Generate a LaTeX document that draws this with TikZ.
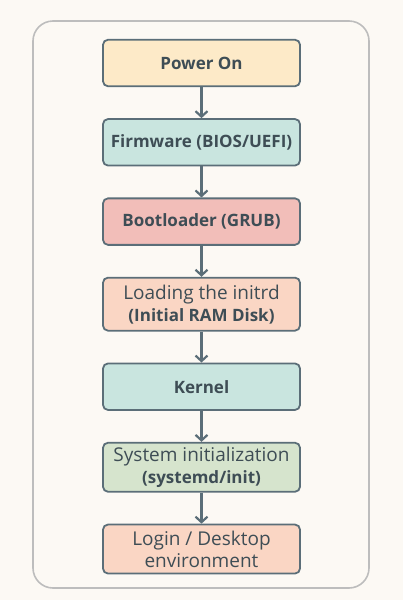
\documentclass[tikz,border=0pt]{standalone}
\usepackage{fontspec}
\setmainfont{Open Sans}
\usepackage{xcolor}
\usepackage{tikz}
\usetikzlibrary{arrows.meta,positioning}
\definecolor{bgcream}{HTML}{FCF9F4}
\definecolor{framegray}{HTML}{BDBDBD}
\definecolor{slateline}{HTML}{5B6E78}
\definecolor{slatetext}{HTML}{3E4D55}
\definecolor{fillyellow}{HTML}{FDEAC8}
\definecolor{fillteal}{HTML}{C9E5DF}
\definecolor{fillpink}{HTML}{F2BEB9}
\definecolor{fillpeach}{HTML}{FAD6C4}
\definecolor{fillgreen}{HTML}{D6E4CD}
\newcommand{\boldline}[1]{{\fontsize{17}{22}\selectfont\bfseries #1}}
\tikzset{
  bootnode/.style={
    rectangle, rounded corners=5pt, draw=slateline, line width=1.8pt,
    minimum width=197pt, minimum height=46.5pt,
    align=center, font=\fontsize{19}{22}\selectfont, text=slatetext, inner sep=2pt
  },
  boottitle/.style={bootnode, font=\fontsize{17}{22}\selectfont\bfseries},
  bootarrow/.style={-{Straight Barb[length=5.5pt,width=12pt,line width=2.2pt]}, line width=2.4pt, draw=slateline},
}
\begin{document}
\begin{tikzpicture}[node distance=31pt]
  \fill[bgcream] (0,0) rectangle (403pt,-600pt);
  \useasboundingbox (0,0) rectangle (403pt,-600pt);
  \draw[framegray, line width=1.6pt, rounded corners=20pt] (33pt,-21pt) rectangle (369pt,-588pt);
  \node (power) [boottitle, fill=fillyellow] at (201.5pt,-63pt) {Power On};
  \node (firmware) [boottitle, fill=fillteal, below=of power] {Firmware (BIOS/UEFI)};
  \node (grub) [boottitle, fill=fillpink, below=of firmware] {Bootloader (GRUB)};
  \node (initrd) [bootnode, fill=fillpeach, minimum height=53pt, below=of grub] {Loading the initrd\\\boldline{(Initial RAM Disk)}};
  \node (kernel) [boottitle, fill=fillteal, below=of initrd] {Kernel};
  \node (sysinit) [bootnode, fill=fillgreen, minimum height=49pt, below=of kernel] {System initialization\\\boldline{(systemd/init)}};
  \node (login) [bootnode, fill=fillpeach, minimum height=49pt, below=of sysinit] {Login / Desktop\\environment};
  \draw[bootarrow] (power)--(firmware); \draw[bootarrow] (firmware)--(grub); \draw[bootarrow] (grub)--(initrd);
  \draw[bootarrow] (initrd)--(kernel); \draw[bootarrow] (kernel)--(sysinit); \draw[bootarrow] (sysinit)--(login);
\end{tikzpicture}
\end{document}
